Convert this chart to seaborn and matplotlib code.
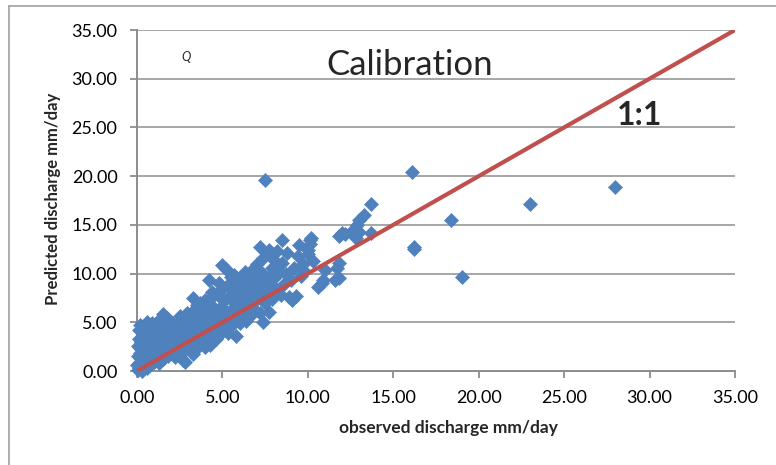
import matplotlib
matplotlib.use("Agg")
import matplotlib.pyplot as plt
import seaborn as sns
import pandas as pd
from matplotlib.lines import Line2D

# observed discharge (mm/day)
observed = [
    0.05, 0.1, 0.1, 0.15, 0.2, 0.2, 0.25, 0.3, 0.1, 0.2, 0.3, 0.35, 0.4, 0.4, 0.45, 0.5, 0.5, 0.45, 0.05, 0.08, 0.12, 0.02, 0.3,
    0.6, 0.6, 0.7, 0.7, 0.75, 0.8, 0.8, 0.9, 0.9, 0.95, 1.0, 1.0, 0.6, 0.85,
    1.1, 1.1, 1.2, 1.2, 1.3, 1.3, 1.35, 1.4, 1.45, 1.5, 1.5, 1.3,
    1.6, 1.6, 1.7, 1.7, 1.8, 1.8, 1.9, 1.9, 2.0, 2.0, 1.75,
    2.1, 2.1, 2.2, 2.2, 2.3, 2.3, 2.4, 2.4, 2.5, 2.5, 2.45,
    2.6, 2.6, 2.7, 2.7, 2.8, 2.8, 2.9, 2.9, 3.0, 3.0, 2.8,
    3.1, 3.1, 3.2, 3.2, 3.3, 3.3, 3.4, 3.4, 3.5, 3.5, 3.3,
    3.6, 3.6, 3.7, 3.7, 3.8, 3.8, 3.9, 3.9, 4.0, 4.0, 4.0,
    4.1, 4.1, 4.2, 4.2, 4.3, 4.3, 4.4, 4.4, 4.5, 4.5, 4.3,
    4.6, 4.6, 4.7, 4.7, 4.8, 4.8, 4.9, 4.9, 5.0, 5.0, 5.0,
    5.1, 5.1, 5.2, 5.2, 5.3, 5.3, 5.4, 5.4, 5.5, 5.5,
    5.6, 5.6, 5.7, 5.7, 5.8, 5.8, 5.9, 5.9, 6.0, 6.0,
    6.1, 6.2, 6.2, 6.3, 6.3, 6.4, 6.4, 6.5, 6.5,
    6.6, 6.7, 6.7, 6.8, 6.8, 6.9, 6.9, 7.0, 7.0,
    7.1, 7.2, 7.2, 7.3, 7.3, 7.4, 7.4, 7.5, 7.5, 7.5,
    7.6, 7.6, 7.7, 7.7, 7.8, 7.9, 7.9, 8.0, 8.0,
    8.1, 8.2, 8.3, 8.4, 8.5, 8.5, 8.6, 8.7, 8.8, 8.9, 9.0,
    9.1, 9.2, 9.3, 9.4, 9.5, 9.6, 9.7, 9.8, 10.0,
    10.1, 10.2, 10.3, 10.6, 10.8, 10.9, 11.0, 10.0, 10.1,
    11.6, 11.7, 11.8, 11.8, 12.0, 12.2, 12.5, 12.9, 13.0, 13.0, 13.3, 13.7, 13.7, 12.8, 11.8,
    16.1, 16.2, 16.2, 18.4, 19.0, 23.0, 28.0,
]

# predicted discharge (mm/day)
predicted = [
    0.1, 0.3, 0.8, 1.3, 1.8, 2.4, 3.0, 3.6, 4.2, 4.7, 0.2, 1.0, 1.6, 2.2, 2.8, 0.5, 3.4, 4.0, 1.5, 2.6, 3.3, 0.6, 0.05,
    0.3, 1.2, 2.0, 2.9, 3.7, 4.4, 0.8, 1.6, 2.5, 3.3, 4.0, 0.9, 5.0, 4.9,
    1.3, 2.2, 3.0, 3.9, 0.8, 1.8, 2.6, 3.5, 4.4, 1.2, 5.9, 5.2,
    2.0, 3.0, 3.8, 4.6, 1.5, 2.5, 3.3, 4.2, 5.0, 1.9, 5.4,
    2.8, 3.6, 4.4, 1.4, 2.2, 3.1, 4.0, 4.9, 1.6, 5.6, 2.7,
    3.4, 4.3, 1.1, 2.1, 3.0, 5.2, 3.9, 6.0, 2.4, 4.7, 0.9,
    3.3, 5.5, 2.0, 4.2, 7.5, 6.2, 2.9, 5.0, 3.8, 6.8, 1.7,
    4.6, 2.6, 5.6, 7.0, 3.4, 6.3, 4.3, 2.9, 5.2, 2.5, 7.3,
    6.0, 3.7, 4.7, 9.3, 2.7, 5.5, 6.7, 8.1, 3.9, 4.9, 7.4,
    6.1, 3.3, 5.4, 7.9, 4.4, 9.0, 6.6, 3.9, 5.8, 10.9, 8.4,
    4.5, 7.2, 10.5, 6.1, 3.9, 8.8, 5.2, 7.6, 9.6, 4.6,
    6.5, 8.3, 5.0, 9.9, 7.0, 3.6, 6.0, 8.8, 4.9, 7.6,
    9.3, 5.6, 6.7, 8.2, 10.2, 5.1, 7.3, 9.0, 6.2,
    8.0, 5.7, 9.7, 7.0, 10.5, 6.3, 8.6, 9.4, 11.0,
    7.6, 12.7, 6.0, 8.4, 10.1, 5.0, 11.6, 19.6, 9.0, 7.0,
    12.1, 8.0, 12.4, 6.1, 9.8, 10.6, 7.4, 11.4, 8.6,
    9.6, 12.3, 10.3, 7.8, 13.4, 11.1, 8.9, 10.0, 12.1, 7.6, 9.3,
    7.3, 10.6, 7.7, 11.8, 12.9, 9.8, 11.0, 10.3, 12.0,
    13.0, 13.7, 11.3, 8.6, 9.0, 9.3, 10.4, 12.4, 13.4,
    9.3, 10.6, 11.1, 13.9, 14.2, 14.1, 14.3, 15.0, 14.3, 15.5, 16.0, 17.1, 14.2, 13.7, 9.5,
    20.4, 12.7, 12.5, 15.5, 9.65, 17.1, 18.9,
]

one_to_one = [0.0, 35.0]
ticks = [0, 5, 10, 15, 20, 25, 30, 35]

df = pd.DataFrame({"observed": observed, "predicted": predicted})

sns.set_theme(style="white")
plt.rcParams["font.family"] = ["Lato", "DejaVu Sans"]

fig = plt.figure(figsize=(7.76, 4.65), dpi=100)
ax = fig.add_axes([137 / 776, 1 - 371 / 465, (735 - 137) / 776, (371 - 30) / 465])

blue = "#4F81BD"
red = "#C0504D"
grid_c = "#A6A6A6"
axis_c = "#8C8C8C"

for t in ticks[1:]:
    ax.axhline(t, color=grid_c, lw=1.4, zorder=0)

sns.scatterplot(data=df, x="observed", y="predicted", marker="D", s=52,
                color=blue, edgecolor=blue, linewidth=0.4, ax=ax, zorder=3,
                clip_on=False)
sns.lineplot(x=one_to_one, y=one_to_one, color=red, lw=3.0, ax=ax, zorder=4)

ax.set_xlim(0, 35)
ax.set_ylim(0, 35)
ax.set_xticks(ticks)
ax.set_yticks(ticks)
ax.set_xticklabels([f"{t:.2f}" for t in ticks])
ax.set_yticklabels([f"{t:.2f}" for t in ticks])
ax.tick_params(axis="both", labelsize=13, colors="black", length=5, width=1.3,
               direction="out", bottom=True, left=True)
ax.tick_params(axis="both", color=axis_c)
ax.tick_params(axis="x", pad=9)
ax.tick_params(axis="y", pad=9)

for side in ["top", "right"]:
    ax.spines[side].set_visible(False)
for side in ["left", "bottom"]:
    ax.spines[side].set_color(axis_c)
    ax.spines[side].set_linewidth(1.4)

ax.set_xlabel("observed discharge mm/day", fontsize=12.5, fontweight="bold")
ax.xaxis.set_label_coords((448 - 137) / 598, -(420 - 371) / 341)
ax.set_ylabel("Predicted discharge mm/day", fontsize=12, fontweight="bold")
ax.yaxis.set_label_coords(-(137 - 61) / 598, 0.504)

ax.text(0.4565, 0.897, "Calibration", transform=ax.transAxes, fontsize=25,
        ha="center", va="center")
ax.text(0.841, 0.748, "1:1", transform=ax.transAxes, fontsize=23,
        fontweight="bold", ha="center", va="center")
ax.text(0.082, 0.92, "Q", transform=ax.transAxes, fontsize=9,
        style="italic", ha="center", va="center")

fig.add_artist(Line2D([9 / 776, 9 / 776], [0, 1 - 6 / 465], transform=fig.transFigure,
                      color="#A0A0A0", lw=1.2))
fig.add_artist(Line2D([9 / 776, 1], [1 - 6 / 465, 1 - 6 / 465], transform=fig.transFigure,
                      color="#A0A0A0", lw=1.2))

fig.savefig("out.png", dpi=100)
